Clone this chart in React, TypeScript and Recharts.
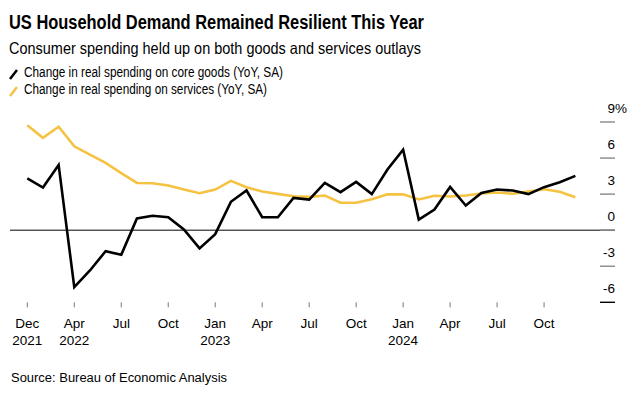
import React from 'react';
import { LineChart, Line, XAxis, YAxis, ReferenceLine } from 'recharts';

const periods = [
  '2021-12', '2022-01', '2022-02', '2022-03', '2022-04', '2022-05', '2022-06', '2022-07', '2022-08', '2022-09', '2022-10', '2022-11',
  '2022-12', '2023-01', '2023-02', '2023-03', '2023-04', '2023-05', '2023-06', '2023-07', '2023-08', '2023-09', '2023-10', '2023-11',
  '2023-12', '2024-01', '2024-02', '2024-03', '2024-04', '2024-05', '2024-06', '2024-07', '2024-08', '2024-09', '2024-10', '2024-11',
];

const coreGoods = [
  4.3, 3.55, 5.43, -4.74, -3.35, -1.75, -2.05, 0.97, 1.2, 1.08, 0.06, -1.52,
  -0.33, 2.36, 3.3, 1.08, 1.08, 2.69, 2.55, 3.94, 3.16, 4.02, 3.0, 5.05,
  6.7, 0.88, 1.72, 3.6, 2.05, 3.1, 3.38, 3.3, 3.0, 3.58, 3.99, 4.52,
];

const services = [
  8.73, 7.68, 8.61, 6.98, 6.29, 5.6, 4.74, 3.93, 3.91, 3.72, 3.38, 3.08,
  3.38, 4.1, 3.57, 3.22, 3.02, 2.82, 2.77, 2.88, 2.28, 2.28, 2.58, 2.98,
  2.98, 2.56, 2.86, 2.8, 2.88, 3.05, 3.13, 3.03, 3.21, 3.41, 3.19, 2.74,
];

const xTickIndices = [0, 3, 6, 9, 12, 15, 18, 21, 24, 27, 30, 33];
const xTickMonths = ['Dec', 'Apr', 'Jul', 'Oct', 'Jan', 'Apr', 'Jul', 'Oct', 'Jan', 'Apr', 'Jul', 'Oct'];
const xTickYears = ['2021', '2022', '', '', '2023', '', '', '', '2024', '', '', ''];

const yTicks = [-6, -3, 0, 3, 6, 9];

const title = 'US Household Demand Remained Resilient This Year';
const subtitle = 'Consumer spending held up on both goods and services outlays';
const legendGoods = 'Change in real spending on core goods (YoY, SA)';
const legendServices = 'Change in real spending on services (YoY, SA)';
const source = 'Source: Bureau of Economic Analysis';

const BLACK = '#000000';
const YELLOW = '#F5C241';
const FONT = '"Liberation Sans", Arial, Helvetica, sans-serif';

const data = periods.map((p, i) => ({ i, period: p, goods: coreGoods[i], services: services[i] }));

const XTick = (props: any) => {
  const { x, y, payload } = props;
  const k = xTickIndices.indexOf(payload.value);
  return (
    <g>
      <line x1={x} x2={x} y1={y} y2={y + 5} stroke="#777" strokeWidth={1} />
      <text x={x} y={y + 25.4} textAnchor="middle" fontSize={13.5} fill="#000" fontFamily={FONT}>
        {xTickMonths[k]}
      </text>
      {xTickYears[k] ? (
        <text x={x} y={y + 43} textAnchor="middle" fontSize={13.5} fill="#000" fontFamily={FONT}>
          {xTickYears[k]}
        </text>
      ) : null}
    </g>
  );
};

const YTick = (props: any) => {
  const { x, y, payload } = props;
  const v = payload.value;
  return (
    <g>
      <line x1={x - 15} x2={x} y1={y} y2={y} stroke={v === -6 ? '#000' : '#888'} strokeWidth={1.4} />
      <text x={x} y={y - 9} textAnchor="end" fontSize={13.5} fill="#000" fontFamily={FONT}>
        {String(v)}
      </text>
      {v === 9 ? (
        <text x={x} y={y - 9} textAnchor="start" fontSize={13.5} fill="#000" fontFamily={FONT}>
          %
        </text>
      ) : null}
    </g>
  );
};

export default function App() {
  return (
    <div style={{ position: 'absolute', left: 0, top: 0, width: 638, height: 394, background: '#fff', fontFamily: FONT }}>
      <svg width={638} height={394} style={{ position: 'absolute', left: 0, top: 0 }}>
        <text x={9} y={29.3} fontSize={20} fontWeight={700} fill="#000" fontFamily={FONT} textLength={415} lengthAdjust="spacingAndGlyphs">{title}</text>
        <text x={9} y={54.3} fontSize={16.5} fill="#000" fontFamily={FONT} textLength={412} lengthAdjust="spacingAndGlyphs">{subtitle}</text>
        <line x1={10} y1={79} x2={17} y2={70} stroke={BLACK} strokeWidth={2.5} />
        <text x={24} y={77.3} fontSize={14} fill="#000" fontFamily={FONT} textLength={259} lengthAdjust="spacingAndGlyphs">{legendGoods}</text>
        <line x1={10} y1={96} x2={17} y2={87} stroke={YELLOW} strokeWidth={2.5} />
        <text x={24} y={94.3} fontSize={14} fill="#000" fontFamily={FONT} textLength={243} lengthAdjust="spacingAndGlyphs">{legendServices}</text>
        <text x={11} y={382} fontSize={12.5} fill="#000" fontFamily={FONT} textLength={216} lengthAdjust="spacingAndGlyphs">{source}</text>
      </svg>
      <div style={{ position: 'absolute', left: 0, top: 0 }}>
        <LineChart width={638} height={394} data={data} margin={{ top: 122, right: 0, bottom: 41.7, left: 10 }}>
          <XAxis
            dataKey="i"
            type="number"
            domain={[-1.105, 37.53]}
            allowDataOverflow
            ticks={xTickIndices}
            interval={0}
            tickLine={false}
            axisLine={false}
            tickSize={0}
            tickMargin={0}
            height={50}
            tick={<XTick />}
          />
          <YAxis
            orientation="right"
            domain={[-6, 9]}
            ticks={yTicks}
            interval={0}
            width={23}
            tickLine={false}
            axisLine={false}
            tickSize={0}
            tickMargin={0}
            tick={<YTick />}
          />
          <ReferenceLine y={0} stroke="#000" strokeWidth={1} />
          <Line type="linear" dataKey="services" stroke={YELLOW} strokeWidth={2.6} dot={false} isAnimationActive={false} />
          <Line type="linear" dataKey="goods" stroke={BLACK} strokeWidth={2.6} dot={false} isAnimationActive={false} />
        </LineChart>
      </div>
    </div>
  );
}
